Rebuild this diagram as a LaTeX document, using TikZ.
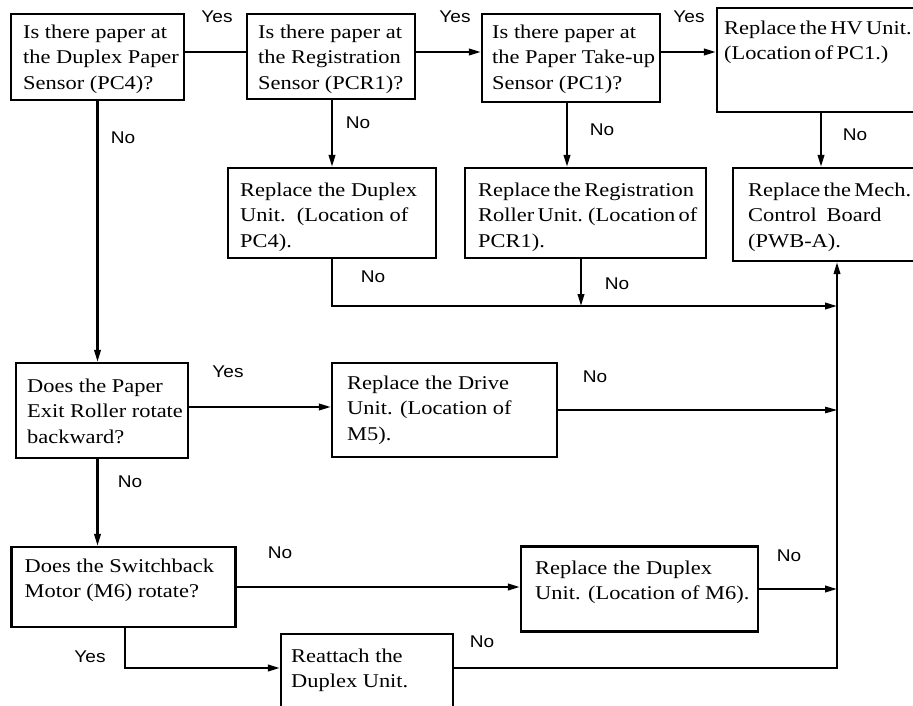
\documentclass[tikz,border=0pt]{standalone}
\usepackage{fontspec}
\newfontfamily\boxfont[FakeStretch=1.15]{Liberation Serif}
\newfontfamily\labfont[FakeStretch=1.12]{Liberation Sans}
\usetikzlibrary{arrows.meta}
\newcommand\tightspace{\spaceskip=0.17em\relax}
\begin{document}
\begin{tikzpicture}[x=1pt,y=-1pt,
  box/.style={draw, line width=2.3pt, rectangle, inner sep=0pt},
  txt/.style={anchor=north west, inner sep=0pt, align=left,
              font=\fontsize{19.5}{25.5}\selectfont\boxfont},
  tighttxt/.style={txt, font=\fontsize{19.5}{25.5}\selectfont\boxfont\tightspace},
  lab/.style={inner sep=0pt, font=\fontsize{17}{20}\selectfont\labfont},
  link/.style={line width=2.2pt},
  arr/.style={link, -{Triangle[length=12pt,width=6.5pt]}},
]
\useasboundingbox (0,0) rectangle (913,706);

% ---- boxes (the right column and the last box run past the page edge) ----
\node[box, minimum width=173pt, minimum height=86pt]  (b1)    at (97.5,57)   {};
\node[box, minimum width=168pt, minimum height=85pt]  (b2)    at (331,56.5)  {};
\node[box, minimum width=178pt, minimum height=88pt]  (b3)    at (571,58)    {};
\node[box, minimum width=203pt, minimum height=104pt] (hv)    at (818.5,60)  {};
\node[box, minimum width=208pt, minimum height=90pt]  (dup1)  at (332,213)   {};
\node[box, minimum width=241pt, minimum height=90pt]  (reg)   at (585.5,213) {};
\node[box, minimum width=187pt, minimum height=93pt]  (mech)  at (826.5,214.5) {};
\node[box, minimum width=172pt, minimum height=95pt]  (exit)  at (102,410.5) {};
\node[box, minimum width=225pt, minimum height=94pt]  (drive) at (444.5,410)  {};
\node[box, minimum width=224pt, minimum height=80pt]  (sw)    at (123.5,587) {};
\node[box, minimum width=237pt, minimum height=85pt]  (m6)    at (639.5,589) {};
\node[box, minimum width=172pt, minimum height=82pt]  (reat)  at (367,675)   {};

% ---- box texts ----
\node[txt] (t1) at (23,20.15)   {\strut Is there paper at\\the Duplex Paper\\Sensor (PC4)?};
\node[txt] (t2) at (258,20.15)  {\strut Is there paper at\\the Registration\\Sensor (PCR1)?};
\node[txt] (t3) at (492,20.15)  {\strut Is there paper at\\the Paper Take-up\\Sensor (PC1)?};
\node[tighttxt] (t4) at (724,16.15)  {\strut Replace the HV Unit.\\(Location of PC1.)};
\node[txt] (t5) at (240,178.15) {\strut Replace the Duplex\\Unit.\ \ (Location of\\PC4).};
\node[tighttxt] (t6) at (478,178.15) {\strut Replace the Registration\\Roller Unit. (Location of\\PCR1).};
\node[tighttxt] (t7) at (748,178.15) {\strut Replace the Mech.\\Control\ \ \ Board\\(PWB-A).};
\node[txt] (t8) at (27,374.15)  {\strut Does the Paper\\Exit Roller rotate\\backward?};
\node[txt] (t9) at (347,371.15) {\strut Replace the Drive\\Unit. (Location of\\M5).};
\node[txt] (t10) at (24.5,554.15) {\strut Does the Switchback\\Motor (M6) rotate?};
\node[txt] (t11) at (535,556.15)  {\strut Replace the Duplex\\Unit. (Location of M6).};
\node[txt] (t12) at (291,644.15)  {\strut Reattach the\\Duplex Unit.};

% ---- helper coordinates ----
\coordinate (yesrow) at (0,52);
\coordinate (exrow) at (0,407);
\coordinate (rrow) at (0,668);
\coordinate (hvx) at (821,0);
\coordinate (j1) at (837,306);
\coordinate (b3x) at ([xshift=-4pt]b3.south);
\coordinate (r1) at ([xshift=-4.5pt]reg.south);
\coordinate (s1) at ([xshift=1.5pt]sw.south);
\coordinate (bus) at (j1 |- rrow);

% ---- connectors ----
\draw[link] (b1.east |- yesrow) -- (b2.west |- yesrow);
\draw[arr]  (b2.east |- yesrow) -- (b3.west |- yesrow);
\draw[arr]  (b3.east |- yesrow) -- (hv.west |- yesrow);
\draw[arr]  (b2.south -| dup1.north) -- (dup1.north);
\draw[arr]  (b3x) -- (b3x |- reg.north);
\draw[arr]  (hv.south -| hvx) -- (mech.north -| hvx);
\draw[arr]  (dup1.south) |- (j1);
\draw[arr]  (r1) -- (r1 |- j1);
\draw[arr]  (b1.south) -- (b1.south |- exit.north);
\draw[arr]  (exit.east |- exrow) -- (drive.west |- exrow);
\draw[arr, line width=1.1pt] (drive.east) -- (drive.east -| j1);
\draw[arr]  (exit.south -| b1.south) -- (b1.south |- sw.north);
\draw[arr]  (sw.east) -- (sw.east -| m6.west);
\draw[arr]  (m6.east) -- (m6.east -| j1);
\draw[arr]  (s1) |- (reat.west |- rrow);
\draw[arr]  (reat.east |- rrow) -- (bus) -- (bus |- mech.south);

% ---- connector labels ----
\node[lab] (y1) at (217,17)  {Yes};
\node[lab] (y2) at (455,17)  {Yes};
\node[lab] (y3) at (689,17)  {Yes};
\node[lab] (n1) at (123,138) {No};
\node[lab] (n2) at (358,123) {No};
\node[lab] (n3) at (602,130) {No};
\node[lab] (n4) at (855,135) {No};
\node[lab] (n5) at (373,277) {No};
\node[lab] (n6) at (617,284) {No};
\node[lab] (y4) at (228,372) {Yes};
\node[lab] (n7) at (595,377) {No};
\node[lab] (n8) at (130,482) {No};
\node[lab] (n9) at (280,553) {No};
\node[lab] (n10) at (789,556) {No};
\node[lab] (y5) at (90,657)  {Yes};
\node[lab] (n11) at (482,642) {No};
\end{tikzpicture}
\end{document}
